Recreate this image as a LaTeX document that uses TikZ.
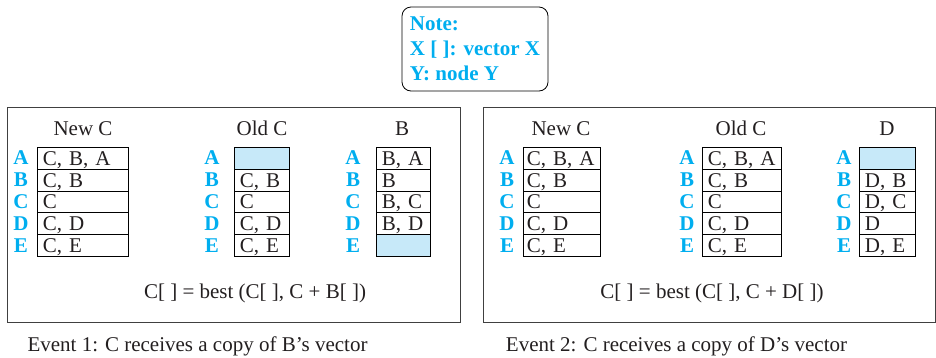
\documentclass[tikz,border=0pt]{standalone}
\usepackage{fontspec}
\setmainfont{Liberation Serif}
\definecolor{noteBlue}{RGB}{0,174,239}
\definecolor{cellBlue}{RGB}{199,233,249}
\definecolor{inkBlack}{RGB}{35,31,32}

\begin{document}
\begin{tikzpicture}[x=1pt,y=-1pt]
% y points down, positions are taken in pixels from the figure

% style
\tikzset{
    every node/.style={font=\fontsize{21}{25}\selectfont, text=inkBlack},
    baseLine/.style={draw=black, line width=0.8pt},
    panelLine/.style={draw=black!75, line width=1pt},
    noteBox/.style={baseLine, rounded corners=9pt, minimum height=84pt, minimum width=146pt,
        align=left, text=noteBlue, font=\fontsize{21}{25}\selectfont\bfseries},
    cellBox/.style={baseLine, anchor=north west, inner xsep=5.5pt, inner ysep=0pt,
        minimum height=21.8pt, text height=14pt, text depth=0pt, align=left},
    rowLetter/.style={text=noteBlue, font=\fontsize{21}{25}\selectfont\bfseries},
    headText/.style={anchor=base}
}

\useasboundingbox (0,0) rectangle (936,357);

% note
\node[noteBox] (note) at (475,49) {Note:\\X [ ]: vector X\\Y: node Y};

% panels
\node[panelLine, minimum width=453pt, minimum height=215pt] (panel1) at (233.5,214.5) {};
\node[panelLine, minimum width=452pt, minimum height=215pt] (panel2) at (709,214.5) {};

% headings
\node[headText] (e1newHead) at ( 83,135) {New C};
\node[headText] (e1oldHead) at (262,135) {Old C};
\node[headText] (e1bHead)   at (402,135) {B};
\node[headText] (e2newHead) at (561,135) {New C};
\node[headText] (e2oldHead) at (741,135) {Old C};
\node[headText] (e2dHead)   at (887,135) {D};

% row letters
\foreach \tab/\x in {e1new/21, e1old/212, e1b/353, e2new/507, e2old/687, e2d/844} {
    \foreach \l [count=\r from 0] in {A,B,C,D,E} {
        \node[rowLetter] (\tab\l) at (\x,158+21.8*\r) {\l};
    }
}

% vectors, event 1
\foreach \r/\t/\f in {0/{C, B, A}/white, 1/{C, B}/white, 2/C/white, 3/{C, D}/white, 4/{C, E}/white} {
    \node[cellBox, text width=80pt, fill=\f] (e1new-\r) at (37,147+21.8*\r) {\t};
}
\foreach \r/\t/\f in {0/{}/cellBlue, 1/{C, B}/white, 2/C/white, 3/{C, D}/white, 4/{C, E}/white} {
    \node[cellBox, text width=44pt, fill=\f] (e1old-\r) at (234,147+21.8*\r) {\t};
}
\foreach \r/\t/\f in {0/{B, A}/white, 1/B/white, 2/{B, C}/white, 3/{B, D}/white, 4/{}/cellBlue} {
    \node[cellBox, text width=43pt, fill=\f] (e1b-\r) at (376,147+21.8*\r) {\t};
}

% vectors, event 2
\foreach \r/\t/\f in {0/{C, B, A}/white, 1/{C, B}/white, 2/C/white, 3/{C, D}/white, 4/{C, E}/white} {
    \node[cellBox, inner xsep=3.5pt, text width=70pt, fill=\f] (e2new-\r) at (523,147+21.8*\r) {\t};
}
\foreach \r/\t/\f in {0/{C, B, A}/white, 1/{C, B}/white, 2/C/white, 3/{C, D}/white, 4/{C, E}/white} {
    \node[cellBox, text width=68pt, fill=\f] (e2old-\r) at (702,147+21.8*\r) {\t};
}
\foreach \r/\t/\f in {0/{}/cellBlue, 1/{D, B}/white, 2/{D, C}/white, 3/D/white, 4/{D, E}/white} {
    \node[cellBox, text width=45pt, fill=\f] (e2d-\r) at (859,147+21.8*\r) {\t};
}

% update rules
\node[headText] (rule1) at (255,298) {C[ ] = best (C[ ], C + B[ ])};
\node[headText] (rule2) at (712,298) {C[ ] = best (C[ ], C + D[ ])};

% captions
\node[headText] (cap1) at (197.5,351.5) {Event 1: C receives a copy of B's vector};
\node[headText] (cap2) at (676.5,351.5) {Event 2: C receives a copy of D's vector};

\end{tikzpicture}
\end{document}
